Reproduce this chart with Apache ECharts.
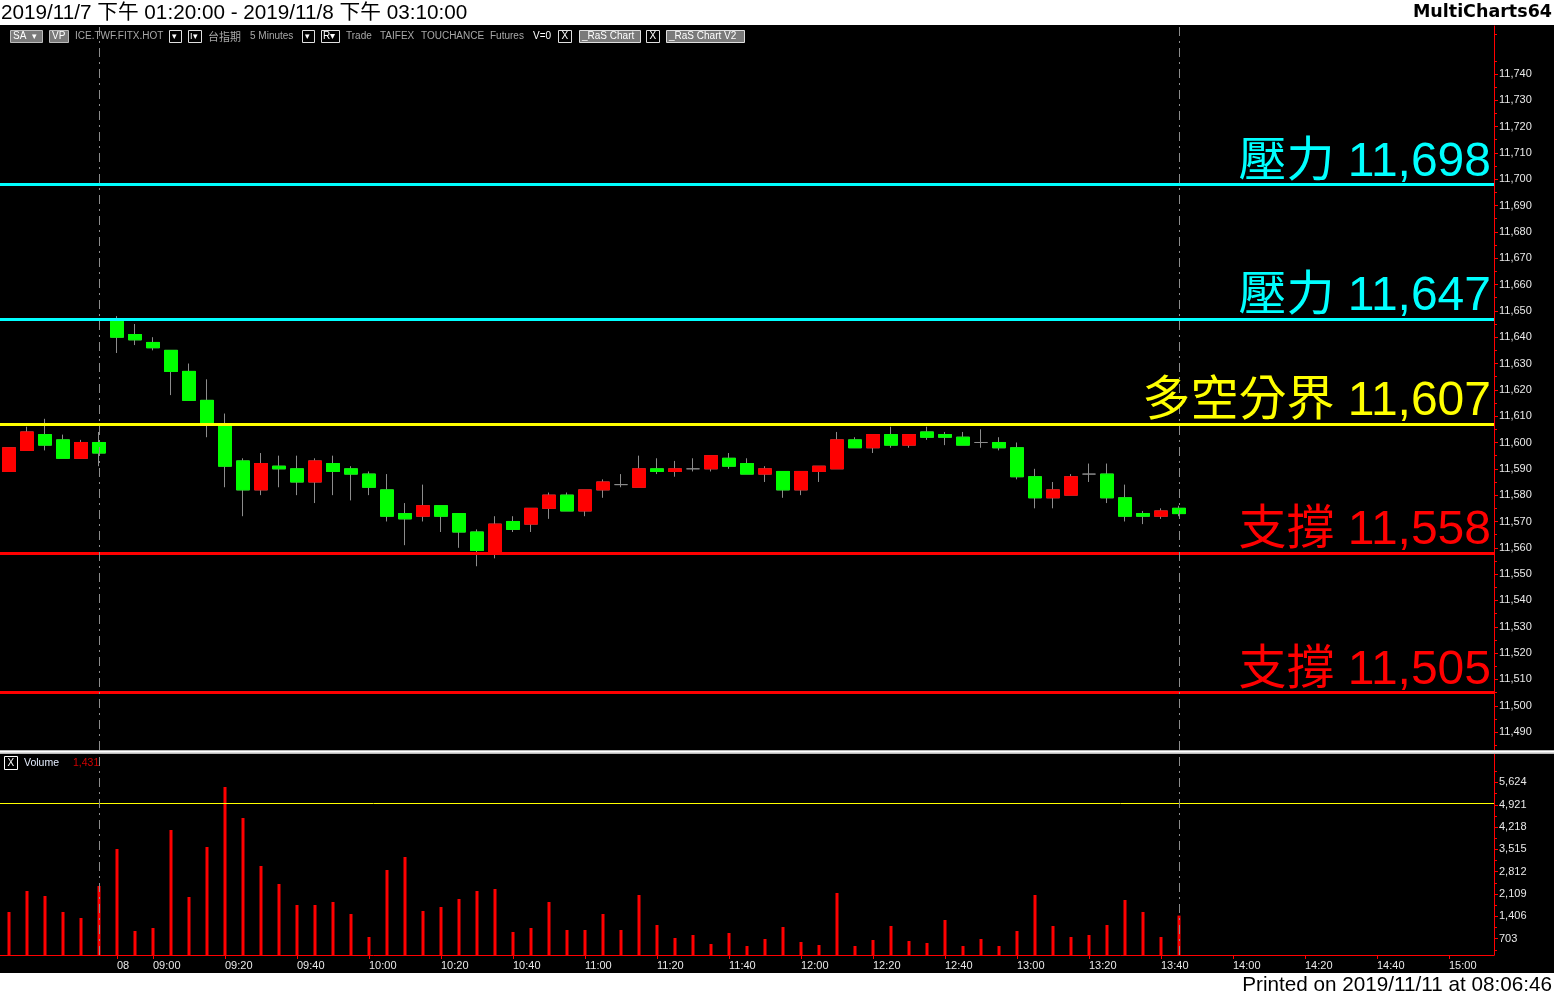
<!DOCTYPE html>
<html>
<head>
<meta charset="utf-8">
<script src="https://cdn.jsdelivr.net/npm/echarts@6/dist/echarts.min.js"></script>
<style>
html,body{margin:0;padding:0;background:#fff;}
#c{width:1554px;height:996px;}
</style>
</head>
<body>
<div id="c"></div>
<script>
// ---------- DATA ----------
const categories = [
 '11/7 13:20','11/7 13:25','11/7 13:30','11/7 13:35','11/7 13:40','11/7 13:45',
 '11/8 08:50','11/8 08:55',
 '11/8 09:00','11/8 09:05','11/8 09:10','11/8 09:15','11/8 09:20','11/8 09:25','11/8 09:30','11/8 09:35','11/8 09:40','11/8 09:45','11/8 09:50','11/8 09:55',
 '11/8 10:00','11/8 10:05','11/8 10:10','11/8 10:15','11/8 10:20','11/8 10:25','11/8 10:30','11/8 10:35','11/8 10:40','11/8 10:45','11/8 10:50','11/8 10:55',
 '11/8 11:00','11/8 11:05','11/8 11:10','11/8 11:15','11/8 11:20','11/8 11:25','11/8 11:30','11/8 11:35','11/8 11:40','11/8 11:45','11/8 11:50','11/8 11:55',
 '11/8 12:00','11/8 12:05','11/8 12:10','11/8 12:15','11/8 12:20','11/8 12:25','11/8 12:30','11/8 12:35','11/8 12:40','11/8 12:45','11/8 12:50','11/8 12:55',
 '11/8 13:00','11/8 13:05','11/8 13:10','11/8 13:15','11/8 13:20','11/8 13:25','11/8 13:30','11/8 13:35','11/8 13:40','11/8 13:45',
 '11/8 13:50','11/8 13:55',
 '11/8 14:00','11/8 14:05','11/8 14:10','11/8 14:15','11/8 14:20','11/8 14:25','11/8 14:30','11/8 14:35','11/8 14:40','11/8 14:45','11/8 14:50','11/8 14:55',
 '11/8 15:00','11/8 15:05','11/8 15:10'
];
const openP  = [11589,11597,11603,11601,11594,11600,11646,11641,11638,11635,11627,11616,11607,11593,11582,11591,11590,11585,11592,11590,11588,11582,11573,11572,11576,11573,11566,11558,11570,11569,11575,11580,11574,11582,11584,11583,11590,11589,11590,11590,11594,11592,11588,11589,11582,11589,11590,11601,11598,11603,11599,11604,11603,11602,11600,11600,11598,11587,11579,11580,11588,11588,11579,11573,11572,11575];
const closeP = [11598,11604,11599,11594,11600,11596,11640,11639,11636,11627,11616,11607,11591,11582,11592,11590,11585,11593,11589,11588,11583,11572,11571,11576,11572,11566,11559,11569,11567,11575,11580,11574,11582,11585,11584,11590,11589,11590,11590,11595,11591,11588,11590,11582,11589,11591,11601,11598,11603,11599,11603,11602,11602,11599,11600,11598,11587,11579,11582,11587,11588,11579,11572,11572,11574,11573];
const lowP   = [11589,11597,11597,11594,11594,11591,11634,11637,11635,11618,11616,11602,11583,11572,11580,11583,11580,11577,11580,11578,11580,11570,11561,11570,11566,11560,11553,11556,11566,11566,11571,11574,11572,11579,11583,11583,11588,11587,11589,11589,11590,11588,11585,11579,11580,11585,11590,11598,11596,11598,11598,11601,11599,11599,11598,11597,11586,11575,11575,11580,11585,11577,11570,11569,11571,11572];
const highP  = [11598,11606,11609,11603,11601,11604,11648,11645,11640,11635,11630,11624,11611,11594,11596,11595,11595,11594,11595,11591,11589,11588,11577,11584,11576,11573,11567,11572,11572,11575,11581,11581,11582,11586,11588,11595,11594,11593,11594,11595,11596,11594,11591,11589,11589,11591,11604,11602,11603,11606,11603,11606,11604,11604,11605,11602,11600,11590,11585,11588,11592,11592,11584,11574,11575,11576];
const volumes = [1544,2205,2048,1544,1355,2363,3528,945,1040,4127,2016,3591,5481,4505,2993,2426,1764,1764,1859,1481,756,2867,3276,1575,1701,1953,2205,2268,914,1040,1859,977,977,1481,977,2079,1134,725,819,536,882,473,693,1071,599,504,2142,473,662,1103,630,567,1292,473,693,473,945,2079,1103,756,819,1134,1922,1544,756,1431];

const levelValues = [11698, 11647, 11607, 11558, 11505];
const levelNames  = ['壓力', '壓力', '多空分界', '支撐', '支撐'];
const levelColors = ['#00ffff', '#00ffff', '#ffff00', '#ff0000', '#ff0000'];

const priceTicks  = [11490,11500,11510,11520,11530,11540,11550,11560,11570,11580,11590,11600,11610,11620,11630,11640,11650,11660,11670,11680,11690,11700,11710,11720,11730,11740];
const priceMinorTicks = [11485,11495,11505,11515,11525,11535,11545,11555,11565,11575,11585,11595,11605,11615,11625,11635,11645,11655,11665,11675,11685,11695,11705,11715,11725,11735,11745,11755];
const volumeTicks = [703,1406,2109,2812,3515,4218,4921,5624];
const volumeMinorTicks = [351.5,1054.5,1757.5,2460.5,3163.5,3866.5,4569.5,5272.5,5975.5];
const volumeRefLine = 4984;

const xTickTimes = ['11/8 08:50','11/8 09:00','11/8 09:20','11/8 09:40','11/8 10:00','11/8 10:20','11/8 10:40','11/8 11:00','11/8 11:20','11/8 11:40','11/8 12:00','11/8 12:20','11/8 12:40','11/8 13:00','11/8 13:20','11/8 13:40','11/8 14:00','11/8 14:20','11/8 14:40','11/8 15:00'];
const xTickTexts = ['08','09:00','09:20','09:40','10:00','10:20','10:40','11:00','11:20','11:40','12:00','12:20','12:40','13:00','13:20','13:40','14:00','14:20','14:40','15:00'];
const sessionMarks = ['11/7 13:45', '11/8 13:45'];

// ---------- BUILD ----------
const fmt = v => String(Math.round(v)).replace(/\B(?=(\d{3})+(?!\d))/g, ',');
const NUMF = "'Liberation Sans', Arial, sans-serif";
const BIGF = "'Liberation Sans', 'Noto Sans CJK TC', sans-serif";

const wickData = openP.map((o, i) => [o, closeP[i], lowP[i], highP[i]]);
const bodyData = openP.map((o, i) => {
  const c = closeP[i];
  const item = { value: [o, c, Math.min(o, c), Math.max(o, c)] };
  if (o === c) item.itemStyle = { opacity: 0 };
  return item;
});
const lastClose = closeP[closeP.length - 1];

const tickSet = new Set(xTickTimes);
const tickFn = (idx, val) => tickSet.has(val);
const labelFmt = val => { const k = xTickTimes.indexOf(val); return k >= 0 ? xTickTexts[k] : ''; };

const dashStyle = { type: [9, 5, 2, 5], color: '#8c8c8c', width: 1 };

const levelLines = levelValues.map((v, i) => ({
  name: levelNames[i], yAxis: v,
  lineStyle: { color: levelColors[i], width: 3, type: 'solid' },
  label: { show: true, position: 'insideEndTop', distance: [3, -2], color: levelColors[i],
           fontSize: 48, fontFamily: BIGF,
           formatter: p => p.name + ' ' + fmt(p.value) }
}));

const chart = echarts.init(document.getElementById('c'), null, { width: 1554, height: 996 });

const txt = (x, y, s, fill, size, extra) => Object.assign({
  type: 'text', x: x, y: y,
  style: { text: s, fill: fill, font: size + 'px ' + NUMF, textVerticalAlign: 'middle', verticalAlign: 'middle' }
}, extra || {});
const box = (x, y, w, h, fill, stroke) => ({
  type: 'rect', shape: { x: x, y: y, width: w, height: h },
  style: { fill: fill || 'none', stroke: stroke || null, lineWidth: 1 }
});

const gfx = [
  // header & footer strips
  { type: 'rect', shape: { x: 0, y: 0, width: 1554, height: 25 }, style: { fill: '#ffffff' } },
  { type: 'rect', shape: { x: 0, y: 973, width: 1554, height: 23 }, style: { fill: '#ffffff' } },
  { type: 'text', x: 1, y: 13, style: { text: '2019/11/7 下午 01:20:00 - 2019/11/8 下午 03:10:00', fill: '#000', font: "20.7px 'Liberation Sans', 'Noto Sans CJK TC', sans-serif", verticalAlign: 'middle' } },
  { type: 'text', x: 1552, y: 12, style: { text: 'MultiCharts64', fill: '#000', font: "bold 17.5px 'DejaVu Sans', sans-serif", align: 'right', verticalAlign: 'middle' } },
  { type: 'text', x: 1552, y: 985, style: { text: 'Printed on 2019/11/11 at 08:06:46', fill: '#000', font: "20.7px 'Liberation Sans', sans-serif", align: 'right', verticalAlign: 'middle' } },
  // pane separator
  { type: 'rect', shape: { x: 0, y: 750, width: 1554, height: 4 }, style: { fill: '#b8b8b8' } },
  { type: 'rect', shape: { x: 0, y: 751, width: 1554, height: 1.5 }, style: { fill: '#ffffff' } },
  // toolbar
  box(10.5, 30.5, 32, 12, '#7a7a7a', '#bdbdbd'), txt(13, 36.5, 'SA', '#fff', 10), txt(32, 36.5, '▾', '#fff', 9),
  box(49.5, 30.5, 19, 12, '#7a7a7a', '#bdbdbd'), txt(52, 36.5, 'VP', '#fff', 10),
  txt(75, 36.5, 'ICE.TWF.FITX.HOT', '#a8a8a8', 10),
  box(169.5, 30.5, 12, 12, null, '#e0e0e0'), txt(172, 36.5, '▾', '#fff', 9),
  box(188.5, 30.5, 13, 12, null, '#e0e0e0'), txt(190, 36.5, 'I▾', '#fff', 9),
  { type: 'text', x: 208, y: 36.5, style: { text: '台指期', fill: '#a8a8a8', font: "11px 'Noto Sans CJK TC', sans-serif", verticalAlign: 'middle' } },
  txt(250, 36.5, '5 Minutes', '#a8a8a8', 10),
  box(302.5, 30.5, 12, 12, null, '#e0e0e0'), txt(305, 36.5, '▾', '#fff', 9),
  box(321.5, 30.5, 18, 12, null, '#e0e0e0'), txt(323, 36.5, 'R▾', '#fff', 10),
  txt(346, 36.5, 'Trade', '#a8a8a8', 10),
  txt(380, 36.5, 'TAIFEX', '#a8a8a8', 10),
  txt(421, 36.5, 'TOUCHANCE', '#a8a8a8', 10),
  txt(490, 36.5, 'Futures', '#a8a8a8', 10),
  txt(533, 36.5, 'V=0', '#ffffff', 10),
  box(558.5, 30.5, 13, 12, null, '#e0e0e0'), txt(561.5, 36.5, 'X', '#fff', 10),
  box(579.5, 30.5, 61, 12, '#7a7a7a', '#e0e0e0'), txt(582, 36.5, '_RaS Chart', '#fff', 10),
  box(646.5, 30.5, 13, 12, null, '#e0e0e0'), txt(649.5, 36.5, 'X', '#fff', 10),
  box(666.5, 30.5, 78, 12, '#7a7a7a', '#e0e0e0'), txt(669, 36.5, '_RaS Chart V2', '#fff', 10),
  // volume pane title
  box(4.5, 756.5, 13, 13, null, '#ffffff'), txt(7.5, 763, 'X', '#fff', 10),
  txt(24, 763, 'Volume', '#e6eeff', 10.5),
  txt(73, 763, '1,431', '#d00000', 10.5)
];

chart.setOption({
  animation: false,
  backgroundColor: '#000000',
  grid: [
    { left: 0, top: 26, width: 1494, height: 724 },
    { left: 0, top: 754, width: 1494, height: 201 }
  ],
  xAxis: [
    { type: 'category', gridIndex: 0, data: categories, boundaryGap: true,
      axisLine: { show: false }, axisTick: { show: false }, axisLabel: { show: false }, splitLine: { show: false } },
    { type: 'category', gridIndex: 1, data: categories, boundaryGap: true,
      axisLine: { show: true, onZero: false, lineStyle: { color: '#ff0000', width: 1 } },
      axisTick: { show: true, alignWithLabel: true, interval: tickFn, length: 4, lineStyle: { color: '#ff0000' } },
      axisLabel: { show: true, interval: tickFn, formatter: labelFmt, align: 'left', margin: 5,
                   color: '#e8e8e8', fontSize: 11, fontFamily: NUMF },
      splitLine: { show: false } }
  ],
  yAxis: [
    { type: 'value', gridIndex: 0, position: 'right', min: 11483.2, max: 11758.2, scale: true,
      axisLine: { show: true, lineStyle: { color: '#ff0000', width: 1 } },
      axisTick: { show: true, length: 4, customValues: priceTicks, lineStyle: { color: '#ff0000' } },
      axisLabel: { show: true, customValues: priceTicks, formatter: v => fmt(v), margin: 5,
                   color: '#e8e8e8', fontSize: 11, fontFamily: NUMF },
      splitLine: { show: false } },
    { type: 'value', gridIndex: 1, position: 'right', min: 189, max: 6520,
      axisLine: { show: true, lineStyle: { color: '#ff0000', width: 1 } },
      axisTick: { show: true, length: 4, customValues: volumeTicks, lineStyle: { color: '#ff0000' } },
      axisLabel: { show: true, customValues: volumeTicks, formatter: v => fmt(v), margin: 5,
                   color: '#e8e8e8', fontSize: 11, fontFamily: NUMF },
      splitLine: { show: false } },
    { type: 'value', gridIndex: 0, position: 'right', min: 11483.2, max: 11758.2, scale: true,
      axisLine: { show: false },
      axisTick: { show: true, length: 3, customValues: priceMinorTicks, lineStyle: { color: '#ff0000' } },
      axisLabel: { show: false }, splitLine: { show: false } },
    { type: 'value', gridIndex: 1, position: 'right', min: 189, max: 6520,
      axisLine: { show: false },
      axisTick: { show: true, length: 3, customValues: volumeMinorTicks, lineStyle: { color: '#ff0000' } },
      axisLabel: { show: false }, splitLine: { show: false } }
  ],
  series: [
    { type: 'candlestick', name: 'wick', xAxisIndex: 0, yAxisIndex: 0, data: wickData, barWidth: 13, silent: true,
      itemStyle: { color: 'rgba(0,0,0,0)', color0: 'rgba(0,0,0,0)', borderColor: '#8c8c8c', borderColor0: '#8c8c8c', borderColorDoji: '#8c8c8c', borderWidth: 1 } },
    { type: 'candlestick', name: 'body', xAxisIndex: 0, yAxisIndex: 0, data: bodyData, barWidth: 13, silent: true,
      itemStyle: { color: '#ff0000', color0: '#00ff00', borderColor: '#ff0000', borderColor0: '#00ff00', borderWidth: 1 },
      markLine: { silent: true, symbol: ['none', 'none'], animation: false,
        data: levelLines.concat(
          sessionMarks.map(t => ({ xAxis: t, lineStyle: dashStyle, label: { show: false } })),
          [{ yAxis: lastClose, lineStyle: { opacity: 0 },
             label: { show: true, position: 'end', distance: 1,
               formatter: () => '{a|◀}{b|' + fmt(lastClose) + '}',
               rich: {
                 a: { color: '#00ff00', fontSize: 11, fontFamily: "'DejaVu Sans', sans-serif" },
                 b: { backgroundColor: '#00ff00', color: '#006000', fontSize: 11, fontFamily: NUMF, padding: [1, 20, 1, 1], height: 12 }
               } } }]
        ) } },
    { type: 'bar', name: 'Volume', xAxisIndex: 1, yAxisIndex: 1, data: volumes, barWidth: 3, silent: true,
      itemStyle: { color: '#ff0000' },
      markLine: { silent: true, symbol: ['none', 'none'], animation: false,
        data: [{ yAxis: volumeRefLine, lineStyle: { color: '#ffff00', width: 1, type: 'solid' }, label: { show: false } }]
          .concat(sessionMarks.map(t => ({ xAxis: t, lineStyle: dashStyle, label: { show: false } }))) } }
  ],
  graphic: { elements: gfx.map(e => Object.assign({ z: 100, silent: true }, e)) }
});
</script>
</body>
</html>
